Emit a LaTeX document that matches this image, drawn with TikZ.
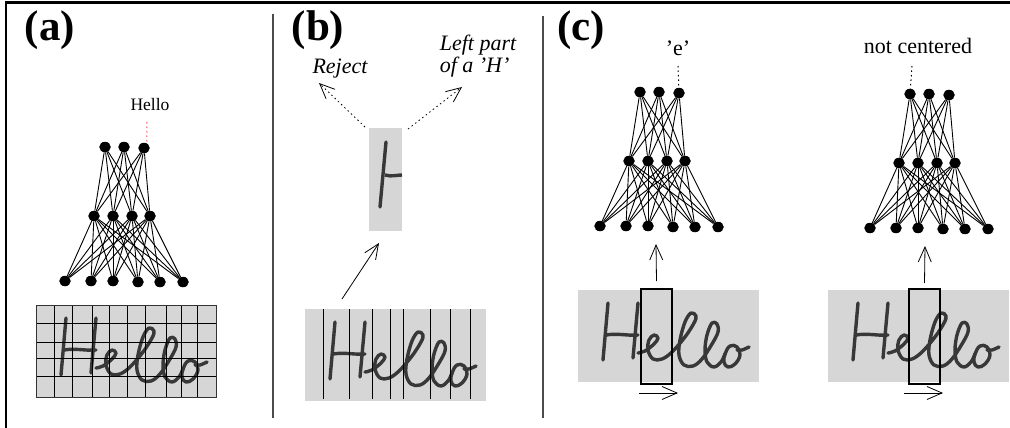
\documentclass[tikz,border=0pt]{standalone}
\usepackage{fontspec}
\setmainfont{Liberation Serif}
\usetikzlibrary{arrows.meta, shapes.geometric}

\tikzset{
    unit/.style={ellipse, fill=black, inner sep=0pt, minimum width=11.5pt, minimum height=10.5pt},
    link/.style={line width=0.9pt},
    panel/.style={font=\fontsize{43}{43}\selectfont\bfseries, inner sep=0pt},
    word/.style={font=\fontsize{22}{22}\selectfont, inner sep=0pt},
    longarrow/.style={-{Straight Barb[length=15pt,width=13pt]}, line width=0.8pt},
    dotarrow/.style={longarrow, dash pattern=on 1.5pt off 3pt},
    dotlink/.style={dash pattern=on 1.5pt off 3pt, line width=1pt},
    ink/.style={line width=3.4pt, draw=black!78, line cap=round, line join=round},
    paper/.style={fill=black!16},
    divider/.style={line width=1.2pt, draw=black!70},
    window/.style={line width=2pt},
    gridline/.style={line width=1pt},
    % three layer network, top left output unit at (105,147)
    net/.pic={
        \foreach \i/\x/\y in {1/105/147, 2/124/147, 3/144/148}
            \node[unit] (T\i) at (\x,\y) {};
        \foreach \i/\x in {1/94, 2/113, 3/132, 4/150}
            \node[unit] (M\i) at (\x,216) {};
        \foreach \i/\x/\y in {1/65/281, 2/91/281, 3/113/281, 4/138/282, 5/160/282, 6/183/282}
            \node[unit] (B\i) at (\x,\y) {};
        \foreach \i in {1,2,3}
            \foreach \j in {1,2,3,4}
                \draw[link] (T\i) -- (M\j);
        \foreach \j in {1,2,3,4}
            \foreach \k in {1,2,3,4,5,6}
                \draw[link] (M\j) -- (B\k);
    },
    % word image, 181 wide and 92 high
    hello/.pic={
        \fill[paper] (0,0) rectangle (181,92);
        \draw[ink] (30,13) -- (25,70);
        \draw[ink] (28,45) .. controls (40,43) and (50,46) .. (60,45);
        \draw[ink] (60,13) -- (55,68);
        % e and the first l
        \draw[ink] plot[smooth, tension=0.6] coordinates {(60,63) (67,61) (76,54) (80,48) (76,45) (71,50) (70,60) (75,69) (84,69)
            (94,62) (107,47) (116,33) (118,26) (113,23) (107,32) (102,50) (101,65) (106,75) (115,76) (124,69)
            (134,54) (140,42) (139,34) (134,33) (129,45) (127,60) (129,72) (136,77) (143,72) (147,64)};
        % o with its tail
        \draw[ink] plot[smooth cycle, tension=0.7] coordinates {(147,64) (152,56) (159,57) (162,65) (157,74) (150,77) (146,72)};
        \draw[ink] plot[smooth, tension=0.6] coordinates {(159,60) (164,60) (171,57)};
    },
}

\begin{document}
\begin{tikzpicture}[x=1pt, y=-1pt]
    \useasboundingbox (0,0) rectangle (1010,428);
    % frame and dividers
    \coordinate (frameleft) at (6,428);
    \coordinate (framecorner) at (6,2.5);
    \coordinate (frameright) at (1010,2.5);
    \draw[line width=2.5pt] (frameleft) -- (framecorner) -- (frameright);
    \coordinate (div1top) at (273,14);
    \coordinate (div1bot) at (273,418);
    \coordinate (div2top) at (543,16);
    \coordinate (div2bot) at (543,418);
    \draw[divider] (div1top) -- (div1bot);
    \draw[divider] (div2top) -- (div2bot);
    % panel letters
    \node[panel] (lettera) at (50,30) {(a)};
    \node[panel] (letterb) at (318,30) {(b)};
    \node[panel] (letterc) at (581,30) {(c)};

    % panel a
    \node[font=\fontsize{17.5}{17.5}\selectfont, inner sep=0pt] (hello) at (150,105) {Hello};
    \pic (a) at (0,0) {net};
    \coordinate (helloend) at (147,122);
    \draw[dotlink, red!70] (helloend) -- (aT3.60);
    \pic at (36,305) {hello};
    \foreach \x in {54,72,92,109,127,145,166,181,197}
        \draw[gridline] (\x,305) -- (\x,397);
    \foreach \y in {323,342,358,376}
        \draw[gridline] (36,\y) -- (216,\y);
    \draw[line width=1pt, draw=black!80] (36,305) rectangle (216,397);

    % panel b
    \pic at (305,309) {hello};
    \foreach \x in {323,349,372,390,403,430,450,470}
        \draw[gridline] (\x,309) -- (\x,399);
    \fill[paper] (369,128) rectangle (402,231);
    \draw[ink] (386,142) -- (380,207);
    \draw[ink, line cap=butt] (385,175) .. controls (392,177) and (396,175) .. (402,175);
    \node[word, font=\fontsize{22}{22}\selectfont\itshape] (reject) at (340,69) {Reject};
    \node[word, font=\fontsize{22}{22}\selectfont\itshape, align=left] (leftpart) at (478,56) {Left part\\of a 'H'};
    \coordinate (cropleft) at (365,127);
    \coordinate (cropright) at (408,129);
    \coordinate (rejectend) at (319,83);
    \coordinate (leftend) at (462,87);
    \draw[dotarrow] (cropleft) -- (rejectend);
    \draw[dotarrow] (cropright) -- (leftend);
    \coordinate (wordtop) at (342,299);
    \coordinate (cropbot) at (379,243);
    \draw[longarrow] (wordtop) -- (cropbot);

    % panel c, left
    \node[word] (letter) at (678,48) {'e'};
    \pic (c) at (535,-55) {net};
    \coordinate (letterend) at (678,66);
    \draw[dotlink] (letterend) -- (cT3);
    \pic at (578,290) {hello};
    \node[draw, window, minimum width=31pt, minimum height=95pt, inner sep=0pt] (boxc) at (656.5,336.5) {};
    \coordinate (netc) at (656,244);
    \coordinate (slideca) at (639,393);
    \coordinate (slidecb) at (678,393);
    \draw[longarrow] (boxc.north) ++(0,-7) coordinate (boxctop) -- (netc);
    \draw[longarrow] (slideca) -- (slidecb);

    % panel c, right
    \node[word] (centered) at (918,46) {not centered};
    \pic (d) at (805,-53) {net};
    \coordinate (centeredend) at (912,66);
    \draw[dotlink] (centeredend) -- (dT1);
    \pic at (828,290) {hello};
    \node[draw, window, minimum width=31pt, minimum height=95pt, inner sep=0pt] (boxd) at (924.5,336.5) {};
    \coordinate (netd) at (925,246);
    \coordinate (slideda) at (904,393);
    \coordinate (slidedb) at (943,393);
    \draw[longarrow] (boxd.north) ++(0,-5) coordinate (boxdtop) -- (netd);
    \draw[longarrow] (slideda) -- (slidedb);
\end{tikzpicture}
\end{document}
